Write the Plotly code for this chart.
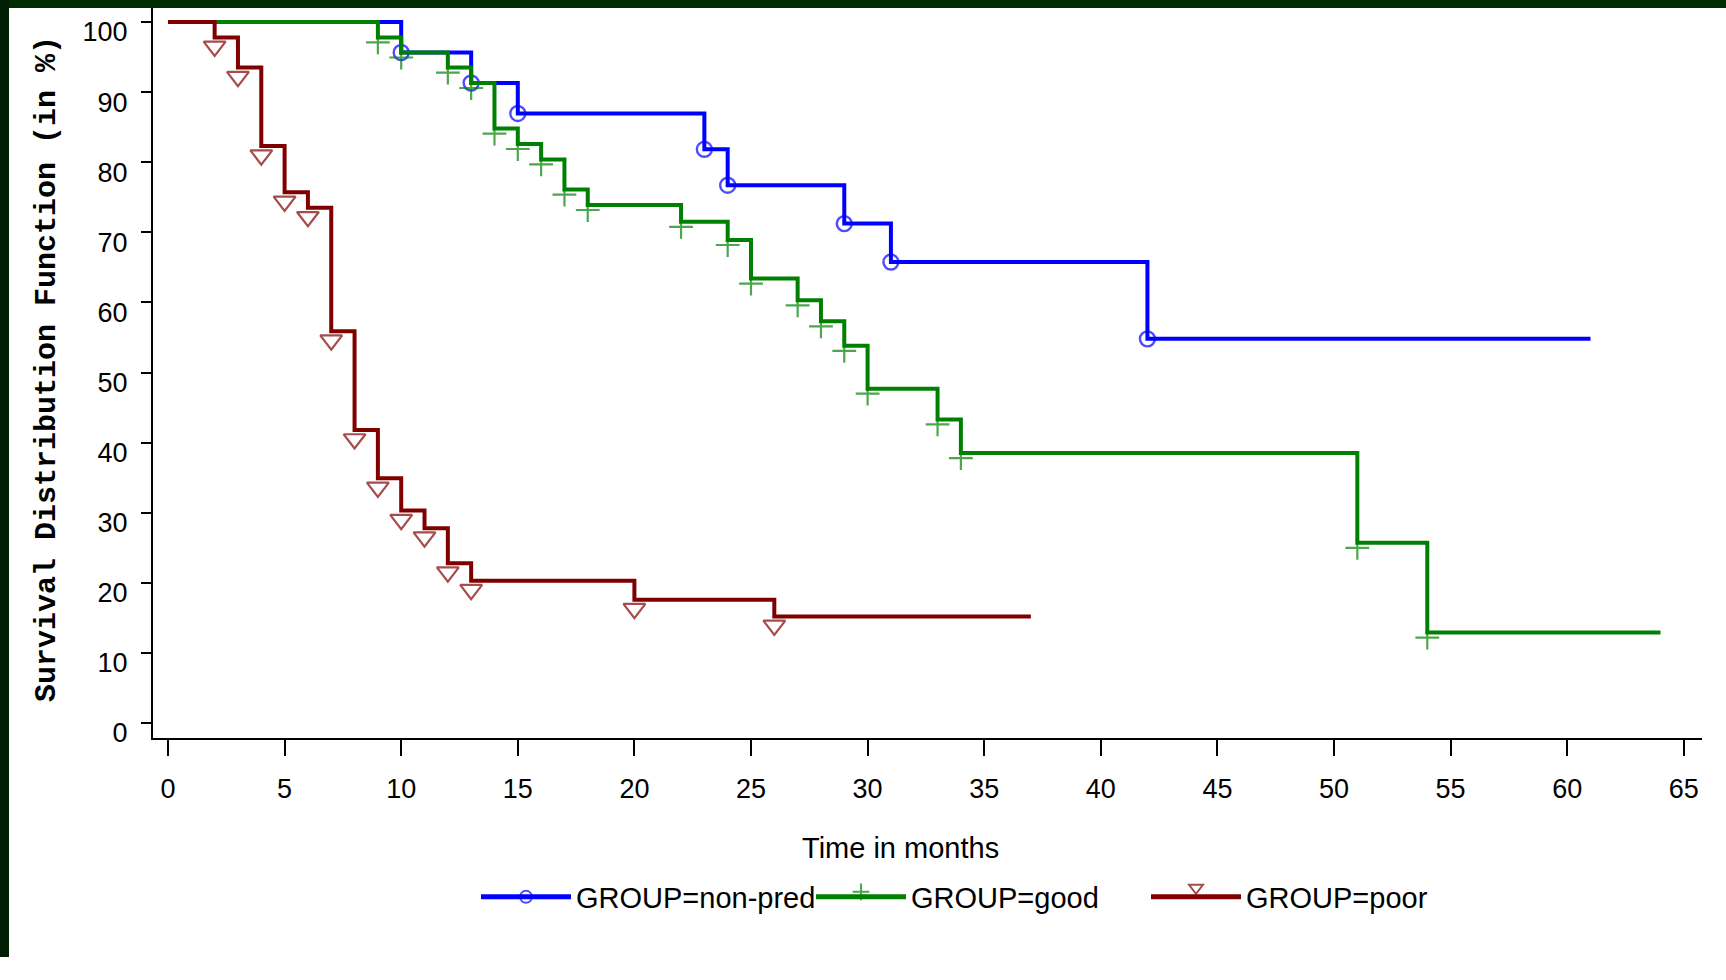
import plotly.graph_objects as go

# ---------------- data ----------------
months_nonpred = [0, 10, 13, 15, 23, 24, 29, 31, 42, 61]
surv_nonpred = [100, 95.65, 91.30, 86.96, 81.84, 76.72, 71.24, 65.76, 54.80, 54.80]

months_good = [0, 9, 10, 12, 13, 14, 15, 16, 17, 18, 22, 24, 25, 27, 28, 29, 30, 33, 34, 51, 54, 64]
surv_good = [100, 97.8, 95.65, 93.5, 91.3, 84.8, 82.6, 80.4, 76.1, 73.9, 71.5, 68.9, 63.4,
             60.3, 57.3, 53.8, 47.7, 43.3, 38.5, 25.7, 12.9, 12.9]

months_poor = [0, 2, 3, 4, 5, 6, 7, 8, 9, 10, 11, 12, 13, 20, 26, 37]
surv_poor = [100, 97.8, 93.5, 82.3, 75.7, 73.5, 55.9, 41.8, 34.9, 30.3, 27.8, 22.8, 20.3,
             17.6, 15.2, 15.2]

group_names = ["GROUP=non-pred", "GROUP=good", "GROUP=poor"]
x_ticks = list(range(0, 70, 5))
y_ticks = list(range(0, 110, 10))

# ---------------- layout geometry ----------------
W, H = 1726, 980
ML, MR, MT, MB = 153, 24, 8, 242
PW, PH = W - ML - MR, H - MT - MB


def px_x(p):
    return (p - ML) / PW


def px_y(p):
    return (H - MB - p) / PH


FONT = "Liberation Sans, Arial, sans-serif"

fig = go.Figure()

series = [
    (months_nonpred, surv_nonpred, group_names[0], "#0000FF",
     dict(symbol="circle-open", size=15, line=dict(width=2.4, color="#0000FF"))),
    (months_good, surv_good, group_names[1], "#008000",
     dict(symbol="cross-thin-open", size=17, standoff=5, line=dict(width=2.2, color="#008000"))),
    (months_poor, surv_poor, group_names[2], "#800000",
     dict(symbol="triangle-down-open", size=19, standoff=9, line=dict(width=2.2, color="#800000"))),
]

for xs, ys, name, col, mk in series:
    sizes = [0] + [mk["size"]] * (len(xs) - 2) + [0]
    mk = dict(mk)
    mk["size"] = sizes
    mk["color"] = col
    fig.add_trace(go.Scatter(
        x=xs, y=ys, name=name, mode="lines+markers",
        line=dict(shape="hv", color=col, width=4),
        marker=mk,
    ))

fig.update_layout(
    width=W, height=H,
    margin=dict(l=ML, r=MR, t=MT, b=MB, pad=0),
    paper_bgcolor="white", plot_bgcolor="white",
    font=dict(family=FONT, size=27, color="black"),
    showlegend=True,
    legend=dict(
        orientation="h", x=px_x(476), xanchor="left", y=px_y(897), yanchor="middle",
        font=dict(family=FONT, size=29, color="black"),
        itemwidth=90, entrywidth=230, entrywidthmode="pixels",
        bgcolor="rgba(0,0,0,0)", itemsizing="constant",
    ),
    xaxis=dict(
        range=[-0.643, 65.78], tickmode="array", tickvals=x_ticks,
        showgrid=False, zeroline=False, showline=True, linecolor="black", linewidth=2,
        ticks="outside", ticklen=16, tickwidth=2, tickcolor="black",
        tickfont=dict(family=FONT, size=27, color="black"), ticklabelstandoff=10,
    ),
    yaxis=dict(
        range=[-2.14, 102.0], tickmode="array", tickvals=y_ticks,
        showgrid=False, zeroline=False, showline=True, linecolor="black", linewidth=2,
        ticks="outside", ticklen=10, tickwidth=2, tickcolor="black",
        tickfont=dict(family=FONT, size=27, color="black"),
        ticklabelshift=10, ticklabelstandoff=8,
    ),
    annotations=[
        dict(text="Time in months", xref="paper", yref="paper", x=px_x(900), y=px_y(848),
             xanchor="center", yanchor="middle", showarrow=False,
             font=dict(family=FONT, size=29, color="black")),
        dict(text="<b>Survival Distribution Function (in %)</b>", xref="paper", yref="paper",
             x=px_x(47), y=px_y(369), xanchor="center", yanchor="middle", textangle=-90,
             showarrow=False,
             font=dict(family="Liberation Mono, DejaVu Sans Mono, monospace", size=30,
                       color="black")),
    ],
    shapes=[
        dict(type="rect", xref="paper", yref="paper", x0=px_x(0), x1=px_x(W), y0=px_y(8),
             y1=px_y(0), fillcolor="#012c02", line=dict(width=0), layer="above"),
        dict(type="rect", xref="paper", yref="paper", x0=px_x(0), x1=px_x(9), y0=px_y(957),
             y1=px_y(0), fillcolor="#011d02", line=dict(width=0), layer="above"),
    ],
)

fig.write_html("out.html", config={"displayModeBar": False},
               post_script="document.body.style.margin='0';")
